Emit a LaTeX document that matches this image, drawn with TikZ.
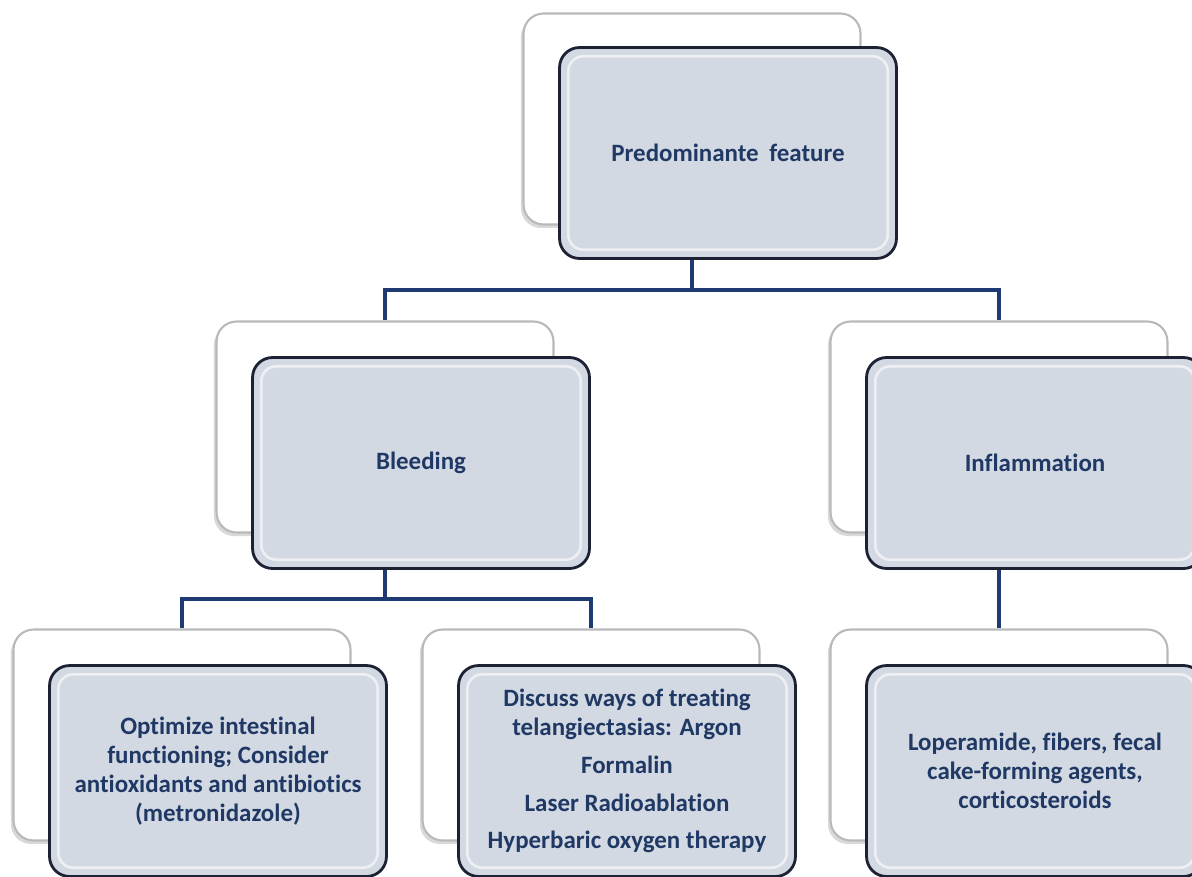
\documentclass[tikz,border=0pt]{standalone}
\usepackage{fontspec}
\setmainfont{Carlito}[Ligatures=NoCommon]
\usetikzlibrary{calc, shadows}
\definecolor{navy}{HTML}{1F3A73}
\definecolor{boxfill}{HTML}{D3D9E3}
\definecolor{boxline}{HTML}{1C2233}
\definecolor{txt}{HTML}{1F3864}

\begin{document}
\begin{tikzpicture}[x=0.02cm, y=-0.02cm,
  back/.style={draw=gray!55, line width=1.2pt, fill=white, rounded corners=0.4cm,
    minimum width=6.74cm, minimum height=4.22cm,
    drop shadow={shadow xshift=-1.5pt, shadow yshift=-2pt, opacity=0.3}},
  front/.style={draw=boxline, line width=1.6pt, fill=boxfill, rounded corners=0.4cm,
    minimum width=6.74cm, minimum height=4.22cm, align=center, text=txt,
    font=\fontsize{14.2}{16.5}\selectfont\bfseries,
    path picture={\draw[white, line width=1.5pt, opacity=.6, rounded corners=0.3cm]
      ([shift={(5pt,-5pt)}]path picture bounding box.north west) rectangle
      ([shift={(-5pt,5pt)}]path picture bounding box.south east);}},
  link/.style={draw=navy, line width=2.2pt}]
  \useasboundingbox (0,0) rectangle (1192,876);

  % shadow boxes
  \node[back] (topback) at (692,119) {};
  \node[back] (bleedback) at (385,427) {};
  \node[back] (inflback) at (999,427) {};
  \node[back] (optback) at (182,735) {};
  \node[back] (discback) at (591,735) {};
  \node[back] (lopback) at (999,735) {};

  \node[front] (top) at ([shift={(36,34)}]topback) {Predominante\hspace{0.2em} feature};
  \node[front] (bleed) at ([shift={(36,36)}]bleedback) {Bleeding};
  \node[front] (infl) at ([shift={(36,36)}]inflback) {Inflammation};
  \node[front] (opt) at ([shift={(36,36)}]optback)
    {Optimize intestinal\\ functioning; Consider\\ antioxidants and antibiotics\\ (metronidazole)};
  \node[front] (disc) at ([shift={(36,36)}]discback)
    {Discuss ways of treating\\ telangiectasias: Argon\\[5pt] Formalin\\[5pt]
     Laser Radioablation\\[5pt] Hyperbaric oxygen therapy};
  \node[front] (lop) at ([shift={(36,36)}]lopback)
    {Loperamide, fibers, fecal\\ cake-forming agents,\\ corticosteroids};

  \coordinate (j1) at ($(top.south -| topback)!.5!(bleedback.north)$);
  \draw[link] (top.south -| topback) -- (topback |- j1);
  \draw[link] (bleedback.north) |- (j1) -| (inflback.north);

  \coordinate (j2) at ($(bleed.south -| bleedback)!.5!(optback.north)$);
  \draw[link] (bleed.south -| bleedback) -- (bleedback |- j2);
  \draw[link] (optback.north) |- (j2) -| (discback.north);
  \draw[link] (infl.south -| inflback) -- (lopback.north);
\end{tikzpicture}
\end{document}
